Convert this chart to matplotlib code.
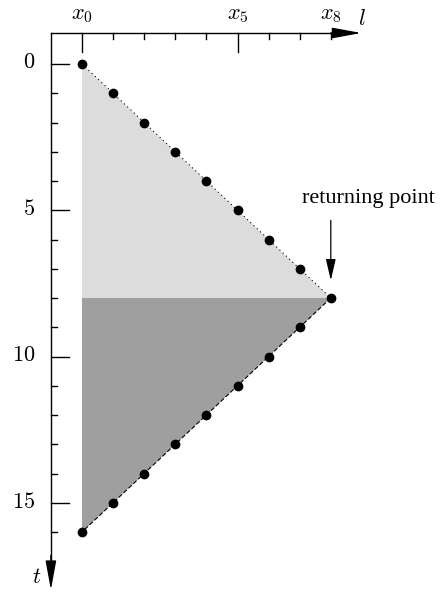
import matplotlib
matplotlib.use("Agg")
import matplotlib.pyplot as plt
import numpy as np

plt.rcParams['mathtext.fontset'] = 'cm'
plt.rcParams['font.family'] = ['Liberation Serif', 'DejaVu Serif']

# path of the particle: out to x8, then back to x0
l_out = [0, 1, 2, 3, 4, 5, 6, 7, 8]
t_out = [0, 1, 2, 3, 4, 5, 6, 7, 8]
l_back = [8, 7, 6, 5, 4, 3, 2, 1, 0]
t_back = [8, 9, 10, 11, 12, 13, 14, 15, 16]
x_ticks = [0, 5, 8]
x_tick_labels = ['$x_0$', '$x_5$', '$x_8$']
t_major = [0, 5, 10, 15]
returning = (8, 8)

fig = plt.figure(figsize=(4.41, 5.94), dpi=100)
ax = fig.add_axes([0, 0, 1, 1])
sx, sy = 31.1, 29.25
ax.set_xlim(-82 / sx, (441 - 82) / sx)
ax.set_ylim((594 - 64) / sy, -64 / sy)
ax.axis('off')

# shaded regions
ax.fill([l_out[0], l_out[-1], 0], [t_out[0], t_out[-1], t_out[-1]], color='#dcdcdc', lw=0)
ax.fill([l_back[0], l_back[-1], 0], [t_back[0], t_back[-1], t_back[0]], color='#9f9f9f', lw=0)

# diagonal lines
ax.plot(l_out, t_out, color='black', lw=0.8, ls=(0, (1, 3)))
ax.plot(l_back, t_back, color='black', lw=0.8, ls=(0, (4, 2)))

# points
ax.plot(l_out + l_back[1:], t_out + t_back[1:], 'o', color='black', ms=6, zorder=5)

# axes drawn by hand
x_ax, t_ax = -1.0, -1.06
arrow = dict(arrowstyle='-|>,head_length=1.8,head_width=0.33', color='black', lw=1,
             shrinkA=0, shrinkB=0)
ax.plot([x_ax, 8.5], [t_ax, t_ax], color='black', lw=1)
ax.annotate('', xy=(8.98, t_ax), xytext=(8.0, t_ax), arrowprops=arrow)
ax.plot([x_ax, x_ax], [t_ax, 17.2], color='black', lw=1)
ax.annotate('', xy=(x_ax, 17.98), xytext=(x_ax, 16.8), arrowprops=arrow)

# ticks on l axis
for i in range(9):
    length = 0.65 if i in (0, 5) else 0.2
    ax.plot([i, i], [t_ax, t_ax + length], color='black', lw=1)
for v, lab in zip(x_ticks, x_tick_labels):
    ax.text(v, -1.65, lab, ha='center', va='center', fontsize=16)
ax.text(9.0, -1.5, '$l$', ha='center', va='center', fontsize=16)

# ticks on t axis
for i in range(17):
    length = 0.58 if i in t_major else 0.2
    ax.plot([x_ax, x_ax + length], [i, i], color='black', lw=1)
for v in t_major:
    ax.text(-1.5, v, r'$%d$' % v, ha='right', va='center', fontsize=16)
ax.text(-1.45, 17.6, '$t$', ha='center', va='center', fontsize=16)

# returning point
ax.annotate('', xy=(returning[0], returning[1] - 0.6), xytext=(returning[0], returning[1] - 2.65),
            arrowprops=dict(arrowstyle='-|>,head_length=1.3,head_width=0.3', color='black',
                            lw=0.9, shrinkA=0, shrinkB=0))
ax.text(9.2, 4.6, 'returning point', ha='center', va='center', fontsize=16)

fig.savefig('out.png', dpi=100)
